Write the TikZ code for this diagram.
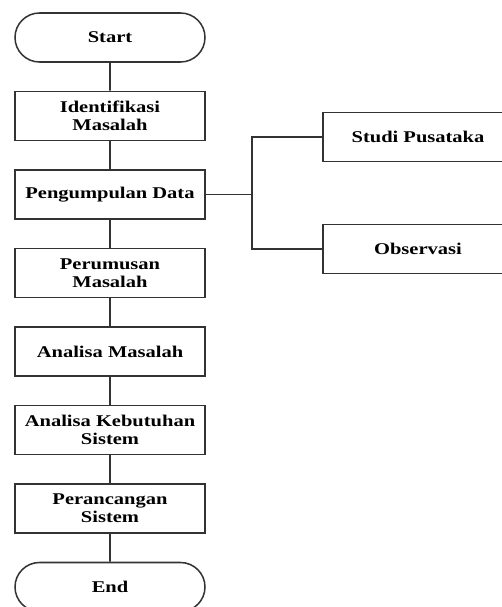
\documentclass[tikz,border=0pt]{standalone}
\usepackage{fontspec}
\setmainfont{Liberation Serif}[FakeStretch=1.25]
\usetikzlibrary{shapes.misc}

\tikzset{
	proses/.style={draw, rectangle, align=center, minimum width=5.7cm, minimum height=1.47cm, inner sep=0pt, font=\bfseries\fontsize{14}{15.5}\selectfont},
	terminal/.style={proses, rounded rectangle}
}

\begin{document}
\begin{tikzpicture}[x=0.03cm, y=-0.03cm, line width=1.3pt, draw=black!80]
	\useasboundingbox (0,0) rectangle (502,607);
	\clip (0,0) rectangle (502,607);
	
	\node [terminal] (start) at (110,37.5) {Start};
	
	\foreach \l [count=\y] in {Identifikasi\\Masalah, Pengumpulan Data, Perumusan\\Masalah, Analisa Masalah, Analisa Kebutuhan\\Sistem, Perancangan\\Sistem}
	\node [proses] (proses-\y) at (110,37.5+\y*78.5) {\l};
	
	\node [terminal] (end) at (110,587) {End};
	
	\node [proses] (studi) at (418,137) {Studi Pusataka};
	\node [proses] (obs) at (418,249) {Observasi};
	\coordinate (cabang) at (252,194.5);
	
	\draw (start) -- (proses-1);
	
	\foreach \i [count=\j from 2] in {1,...,5}
	\draw (proses-\i) -- (proses-\j);
	
	\draw (proses-6) -- (end);
	
	\draw (proses-2.east) -- (cabang);
	\draw (cabang) |- (studi.west);
	\draw (cabang) |- (obs.west);
\end{tikzpicture}
\end{document}
